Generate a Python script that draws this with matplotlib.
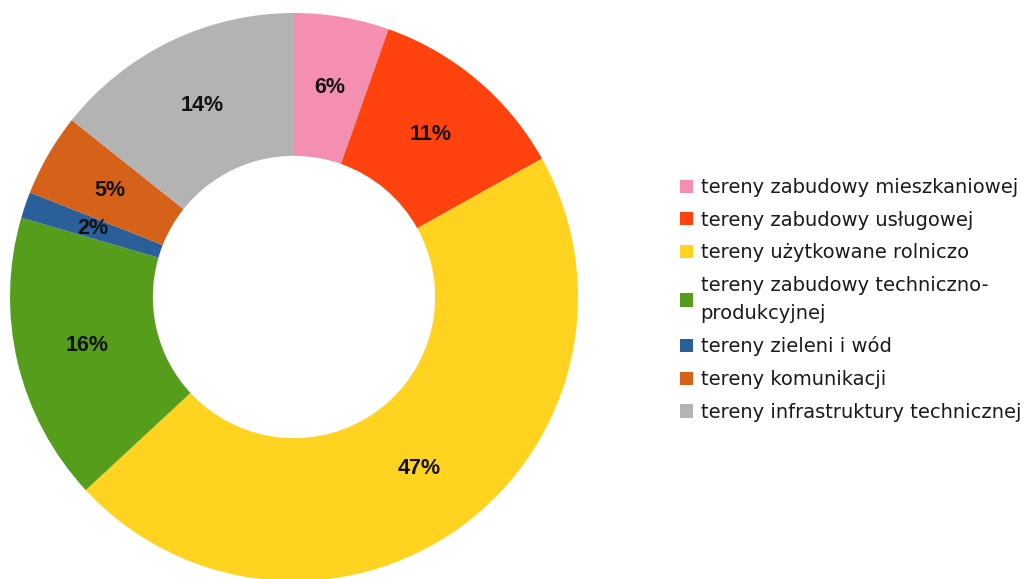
import matplotlib
matplotlib.use("Agg")
import matplotlib.pyplot as plt
from matplotlib.patches import Patch
import numpy as np

categories = [
    "tereny zabudowy mieszkaniowej",
    "tereny zabudowy usługowej",
    "tereny użytkowane rolniczo",
    "tereny zabudowy techniczno-\nprodukcyjnej",
    "tereny zieleni i wód",
    "tereny komunikacji",
    "tereny infrastruktury technicznej",
]
values = [5.4, 11.5, 46.2, 16.4, 1.5, 4.7, 14.3]
pct_labels = ["6%", "11%", "47%", "16%", "2%", "5%", "14%"]
colors = ["#f58fb2", "#ff420e", "#ffd320", "#579d1c", "#2a5f99", "#d6621a", "#b3b3b3"]

W, H = 1028, 579
fig = plt.figure(figsize=(W / 100, H / 100), dpi=100)
cx, cy, R = 294, 297, 284
ax = fig.add_axes([(cx - R) / W, (H - cy - R) / H, 2 * R / W, 2 * R / H])

wedges, _ = ax.pie(values, colors=colors, startangle=90, counterclock=False,
                   radius=1.0, wedgeprops=dict(width=0.503, linewidth=0))
ax.set_xlim(-1, 1)
ax.set_ylim(-1, 1)
ax.axis("off")

total = sum(values)
cum = 0
for v, lab in zip(values, pct_labels):
    mid = (cum + v / 2) / total
    ang = np.deg2rad(90 - 360 * mid)
    r = 0.748
    ax.text(r * np.cos(ang), r * np.sin(ang), lab, ha="center", va="center",
            fontsize=15.5, fontweight="bold", family="Liberation Sans", color="#111111")
    cum += v

handles = [Patch(facecolor=c, edgecolor="none") for c in colors]
leg = fig.legend(handles, categories, loc="upper left",
                 bbox_to_anchor=(680 / W, 1 - 178 / H),
                 frameon=False, prop=dict(family="DejaVu Sans", size=14),
                 handlelength=0.68, handleheight=0.68, handletextpad=0.38,
                 labelspacing=0.7, borderpad=0, borderaxespad=0)
for t in leg.get_texts():
    t.set_color("#1a1a1a")
    t.set_linespacing(1.6)

fig.savefig("out.png", dpi=100, facecolor="white")
